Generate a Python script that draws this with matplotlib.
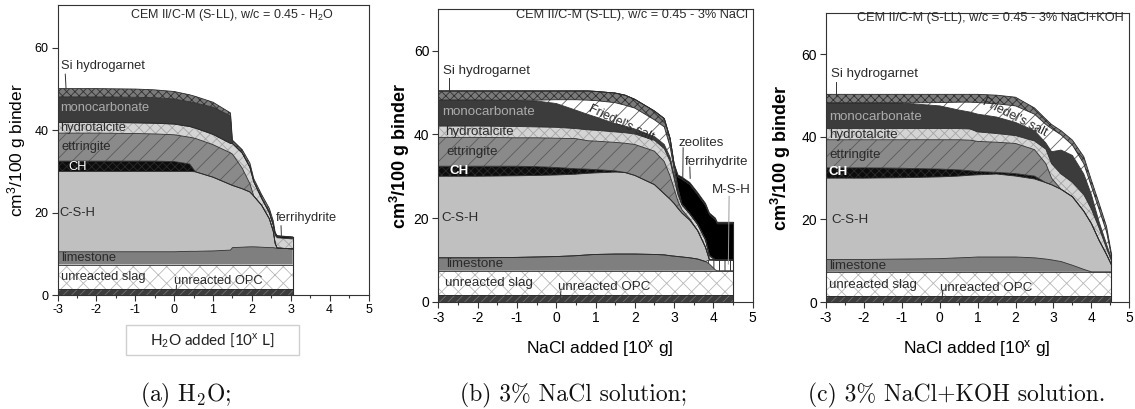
import numpy as np
import matplotlib.pyplot as plt
from matplotlib.patches import Rectangle
from matplotlib.ticker import MultipleLocator

plt.rcParams['font.family'] = 'Liberation Sans'
plt.rcParams['mathtext.fontset'] = 'custom'
plt.rcParams['mathtext.rm'] = 'Liberation Sans'
plt.rcParams['mathtext.it'] = 'Liberation Sans:italic'
plt.rcParams['mathtext.bf'] = 'Liberation Sans:bold'
plt.rcParams['axes.unicode_minus'] = False
plt.rcParams['hatch.linewidth'] = 0.6

# --- (a) H2O: upper boundary of each phase, cm3/100 g binder ---
a_x = [-3, -2, -1, -0.5, 0, 0.4, 0.55, 1.0, 1.45, 1.5, 1.75, 1.95, 2.05, 2.25, 2.45, 2.55, 2.6, 2.65, 3.05]
a_opc = [1.4, 1.4, 1.4, 1.4, 1.4, 1.4, 1.4, 1.4, 1.4, 1.4, 1.4, 1.4, 1.4, 1.4, 1.4, 1.4, 1.4, 1.4, 1.4]
a_slag = [7.4, 7.4, 7.4, 7.4, 7.4, 7.4, 7.4, 7.4, 7.4, 7.4, 7.4, 7.4, 7.4, 7.4, 7.4, 7.4, 7.4, 7.4, 7.4]
a_lime = [10.5, 10.5, 10.5, 10.5, 10.5, 10.6, 10.6, 10.7, 10.9, 11.5, 11.6, 11.7, 11.7, 11.6, 11.5, 11.5, 11.4, 11.4, 11.2]
a_csh = [30.0, 30.0, 30.0, 30.0, 30.0, 30.0, 29.9, 28.6, 26.8, 26.6, 25.8, 25.0, 24.0, 21.8, 18.5, 15.5, 12.5, 11.4, 11.2]
a_ch = [32.5, 32.5, 32.5, 32.5, 32.4, 31.8, 29.9, 28.6, 26.8, 26.6, 25.8, 25.0, 24.0, 21.8, 18.5, 15.5, 12.5, 11.4, 11.2]
a_ett = [39.3, 39.3, 39.2, 39.1, 38.9, 38.3, 38.0, 36.5, 34.5, 34.2, 30.8, 27.0, 24.0, 21.8, 18.5, 15.5, 12.5, 11.4, 11.2]
a_hyd = [41.9, 41.9, 41.8, 41.7, 41.5, 40.9, 40.5, 39.0, 36.8, 36.8, 34.5, 31.0, 27.5, 23.5, 20.0, 17.0, 14.5, 13.9, 13.6]
a_ferri = [41.9, 41.9, 41.8, 41.7, 41.5, 40.9, 40.5, 39.0, 36.8, 36.8, 34.5, 31.0, 27.5, 23.5, 20.0, 17.0, 14.9, 14.3, 14.0]
a_mono = [48.1, 48.1, 48.0, 47.9, 47.6, 46.9, 46.6, 45.6, 43.5, 36.8, 34.5, 31.0, 27.5, 23.5, 20.0, 17.0, 14.9, 14.3, 14.0]
a_sihg = [50.1, 50.1, 50.0, 49.8, 49.4, 48.6, 48.2, 46.8, 44.2, 37.6, 35.3, 32.0, 28.2, 24.4, 21.0, 18.0, 15.2, 14.4, 14.1]

# --- (b) 3% NaCl ---
b_x = [-3, -2, -1, -0.5, 0, 0.5, 0.8, 1.0, 1.5, 1.75, 2.0, 2.5, 2.75, 2.9, 3.0, 3.1, 3.2, 3.4, 3.6, 3.8, 3.9, 4.05, 4.1, 4.3, 4.5]
b_opc = [1.5, 1.5, 1.5, 1.5, 1.5, 1.5, 1.5, 1.5, 1.5, 1.5, 1.5, 1.5, 1.5, 1.5, 1.5, 1.5, 1.5, 1.5, 1.5, 1.5, 1.5, 1.5, 1.5, 1.5, 1.5]
b_slag = [7.4, 7.4, 7.4, 7.4, 7.4, 7.4, 7.4, 7.4, 7.4, 7.4, 7.4, 7.4, 7.4, 7.4, 7.4, 7.4, 7.4, 7.4, 7.4, 7.4, 7.4, 7.4, 7.4, 7.4, 7.4]
b_lime = [10.5, 10.5, 10.6, 10.7, 10.8, 11.0, 11.2, 11.3, 11.4, 11.4, 11.4, 11.3, 11.2, 11.0, 10.9, 10.8, 10.7, 10.5, 10.2, 9.6, 9.0, 7.6, 7.4, 7.4, 7.4]
b_msh = [10.5, 10.5, 10.6, 10.7, 10.8, 11.0, 11.2, 11.3, 11.4, 11.4, 11.4, 11.3, 11.2, 11.0, 10.9, 10.8, 10.7, 10.5, 10.2, 9.6, 10.0, 10.0, 10.0, 10.0, 10.0]
b_csh = [30.0, 30.0, 30.1, 30.2, 30.3, 30.5, 30.7, 30.8, 31.0, 30.9, 30.2, 28.0, 25.8, 24.5, 23.5, 22.3, 21.2, 19.5, 17.0, 13.0, 10.0, 10.0, 10.0, 10.0, 10.0]
b_ch = [32.4, 32.4, 32.4, 32.3, 32.1, 31.8, 31.7, 31.6, 31.3, 30.9, 30.2, 28.0, 25.8, 24.5, 23.5, 22.3, 21.2, 19.5, 17.0, 13.0, 10.0, 10.0, 10.0, 10.0, 10.0]
b_ett = [39.3, 39.3, 39.2, 39.2, 39.1, 39.0, 38.5, 38.4, 38.1, 37.9, 37.6, 36.0, 33.5, 30.0, 27.0, 24.0, 22.0, 19.8, 17.0, 13.0, 10.0, 10.0, 10.0, 10.0, 10.0]
b_hyd = [42.0, 42.0, 41.9, 41.8, 41.7, 41.4, 41.1, 41.0, 40.6, 40.4, 40.1, 38.6, 36.6, 33.5, 29.5, 25.5, 23.2, 21.0, 18.5, 14.8, 11.0, 10.0, 10.0, 10.0, 10.0]
b_mono = [48.2, 48.2, 48.1, 48.0, 47.4, 45.8, 44.8, 44.2, 42.6, 42.0, 41.3, 39.5, 37.6, 34.5, 30.3, 26.0, 23.2, 21.0, 18.5, 14.8, 11.0, 10.0, 10.0, 10.0, 10.0]
b_fs = [48.2, 48.2, 48.2, 48.2, 48.3, 48.3, 48.2, 48.1, 47.6, 47.0, 46.3, 43.5, 41.8, 37.0, 31.5, 26.5, 23.2, 21.0, 18.5, 14.8, 11.0, 10.0, 10.0, 10.0, 10.0]
b_sihg = [50.4, 50.4, 50.4, 50.4, 50.4, 50.4, 50.4, 50.3, 49.9, 49.4, 48.4, 45.6, 43.8, 39.0, 33.0, 27.2, 23.4, 21.1, 18.6, 14.9, 11.1, 10.0, 10.0, 10.0, 10.0]
b_zeo = [50.4, 50.4, 50.4, 50.4, 50.4, 50.4, 50.4, 50.3, 49.9, 49.4, 48.4, 45.6, 43.8, 39.0, 33.0, 29.8, 29.3, 28.0, 25.6, 23.0, 20.8, 19.6, 18.6, 18.6, 18.6]
b_ferri = [50.4, 50.4, 50.4, 50.4, 50.4, 50.4, 50.4, 50.3, 49.9, 49.4, 48.4, 45.6, 43.8, 39.0, 33.0, 30.3, 29.8, 28.5, 26.1, 23.5, 21.2, 20.0, 19.0, 19.0, 19.0]

# --- (c) 3% NaCl + KOH ---
c_x = [-3, -2, -1, 0, 0.5, 0.8, 1.0, 1.5, 2.0, 2.5, 2.8, 2.95, 3.2, 3.5, 3.8, 4.0, 4.2, 4.4, 4.53]
c_opc = [1.45, 1.45, 1.45, 1.45, 1.45, 1.45, 1.45, 1.45, 1.45, 1.45, 1.45, 1.45, 1.45, 1.45, 1.45, 1.45, 1.45, 1.45, 1.45]
c_slag = [7.3, 7.3, 7.3, 7.3, 7.3, 7.3, 7.3, 7.3, 7.3, 7.3, 7.3, 7.3, 7.3, 7.3, 7.3, 7.3, 7.3, 7.3, 7.3]
c_lime = [10.3, 10.3, 10.4, 10.5, 10.7, 10.8, 10.9, 10.9, 10.9, 10.7, 10.4, 10.2, 9.8, 8.9, 7.9, 7.3, 7.3, 7.3, 7.3]
c_csh = [30.0, 30.0, 30.1, 30.3, 30.5, 30.7, 30.8, 31.0, 30.5, 29.8, 28.9, 28.4, 27.3, 25.5, 22.0, 19.0, 15.0, 11.5, 9.0]
c_ch = [32.5, 32.5, 32.4, 32.2, 32.0, 31.8, 31.6, 31.4, 31.1, 30.5, 28.9, 28.4, 27.3, 25.5, 22.0, 19.0, 15.0, 11.5, 9.0]
c_ett = [39.3, 39.3, 39.3, 39.3, 39.3, 39.2, 38.9, 38.7, 38.4, 36.9, 33.5, 30.0, 27.3, 25.5, 22.0, 19.0, 15.0, 11.5, 9.0]
c_hyd = [42.0, 42.0, 42.0, 42.0, 42.0, 41.9, 41.2, 40.8, 40.3, 39.0, 37.0, 33.5, 31.0, 29.0, 26.0, 22.5, 18.0, 13.0, 10.0]
c_mono = [48.2, 48.2, 48.2, 47.5, 46.5, 46.0, 45.5, 44.8, 43.5, 41.5, 38.5, 36.4, 36.8, 35.5, 31.0, 26.0, 19.5, 14.0, 10.5]
c_fs = [48.2, 48.2, 48.2, 48.3, 48.4, 48.4, 48.3, 48.0, 47.5, 45.5, 43.0, 42.0, 40.5, 38.0, 33.5, 28.0, 22.5, 17.0, 11.0]
c_sihg = [50.3, 50.3, 50.3, 50.3, 50.3, 50.3, 50.3, 50.1, 49.6, 47.0, 44.3, 43.0, 41.5, 39.2, 35.2, 29.5, 24.0, 18.3, 11.7]

# facecolor, hatch, hatch colour for every phase
STYLE = {
    'opc':   ('#3d3d3d', '////', '#707070'),
    'slag':  ('white', 'xx', '#b8b8b8'),
    'lime':  ('#7f7f7f', None, None),
    'msh':   ('white', '|||', '#111111'),
    'csh':   ('#c0c0c0', None, None),
    'ch':    ('#0d0d0d', 'xxxx', '#2a2a2a'),
    'ett':   ('#8a8a8a', '//', '#5a5a5a'),
    'hyd':   ('#d4d4d4', 'xxx', '#a5a5a5'),
    'ferri': ('#141414', None, None),
    'zeo':   ('#000000', None, None),
    'mono':  ('#3c3c3c', None, None),
    'fs':    ('white', '//', '#606060'),
    'sihg':  ('#7a7a7a', 'xxxx', '#303030'),
}
LINE = '#2b2b2b'
TXT = '#2a2a2a'


def draw_stack(ax, x, layers):
    x = np.asarray(x, dtype=float)
    lower = np.zeros(len(x))
    for name, top in layers:
        top = np.asarray(top, dtype=float)
        fc, hatch, hc = STYLE[name]
        ax.fill_between(x, lower, top, facecolor=fc, edgecolor='none', linewidth=0)
        if hatch:
            ax.fill_between(x, lower, top, facecolor='none', edgecolor=hc,
                            hatch=hatch, linewidth=0)
        ax.plot(x, top, color=LINE, lw=0.6)
        lower = top
    ax.plot([x[-1], x[-1]], [0, lower[-1]], color=LINE, lw=0.8)


def style_axes(ax, ytop, fs):
    ax.set_xlim(-3, 5)
    ax.set_ylim(0, ytop)
    ax.set_xticks(range(-3, 6))
    ax.set_yticks([0, 20, 40, 60])
    ax.xaxis.set_minor_locator(MultipleLocator(0.5))
    ax.tick_params(which='both', direction='out', top=False, right=False,
                   color='#333333', width=0.8, labelsize=fs, pad=2.5)
    ax.tick_params(which='major', length=4)
    ax.tick_params(which='minor', length=2.5)
    for s in ax.spines.values():
        s.set_linewidth(0.8)
        s.set_color('#333333')


def leader(ax, xs, ys, color='#333333'):
    ax.plot(xs, ys, color=color, lw=0.7)


def common_labels(ax, pos, fs, bold_ch=False):
    ax.text(pos['sihg'][0], pos['sihg'][1], 'Si hydrogarnet', fontsize=fs, color=TXT, va='center')
    ax.text(pos['mono'][0], pos['mono'][1], 'monocarbonate', fontsize=fs, color='#ababab', va='center')
    ax.text(pos['hyd'][0], pos['hyd'][1], 'hydrotalcite', fontsize=fs, color=TXT, va='center')
    ax.text(pos['ett'][0], pos['ett'][1], 'ettringite', fontsize=fs, color=TXT, va='center')
    ax.text(pos['ch'][0], pos['ch'][1], 'CH', fontsize=fs, color='white', va='center',
            fontweight='bold' if bold_ch else 'normal')
    ax.text(pos['csh'][0], pos['csh'][1], 'C-S-H', fontsize=fs, color=TXT, va='center')
    ax.text(pos['lime'][0], pos['lime'][1], 'limestone', fontsize=fs, color=TXT, va='center')
    ax.text(pos['slag'][0], pos['slag'][1], 'unreacted slag', fontsize=fs, color=TXT, va='center')
    ax.text(pos['opc'][0], pos['opc'][1], 'unreacted OPC', fontsize=fs, color=TXT, va='center')


W, H = 1135, 409
fig = plt.figure(figsize=(W / 100, H / 100), dpi=100)


def px_axes(l, t, r, b):
    return fig.add_axes([l / W, 1 - b / H, (r - l) / W, (b - t) / H])


# ---------------- (a) ----------------
ax1 = px_axes(57.5, 5, 368.5, 295)
draw_stack(ax1, a_x, [('opc', a_opc), ('slag', a_slag), ('lime', a_lime), ('csh', a_csh),
                      ('ch', a_ch), ('ett', a_ett), ('hyd', a_hyd), ('ferri', a_ferri),
                      ('mono', a_mono), ('sihg', a_sihg)])
style_axes(ax1, 70.4, 9)
ax1.set_ylabel('cm$^3$/100 g binder', fontsize=12.5)
ax1.yaxis.set_label_coords(-0.095, 0.5)
ax1.text(1.49, 67.9, 'CEM II/C-M (S-LL), w/c = 0.45 - H$_2$O', fontsize=9, color=TXT,
         ha='center', va='center')
common_labels(ax1, {'sihg': (-2.9, 55.5), 'mono': (-2.94, 45.3), 'hyd': (-2.94, 40.6),
                    'ett': (-2.9, 36.0), 'ch': (-2.73, 31.1), 'csh': (-2.96, 19.8),
                    'lime': (-2.9, 8.9), 'slag': (-2.92, 4.3), 'opc': (0.0, 3.4)}, 9.3)
ax1.text(2.62, 18.6, 'ferrihydrite', fontsize=9.3, color=TXT, va='center')
leader(ax1, [-2.8, -2.78], [53.6, 50.0])
leader(ax1, [0.06, 0.05], [2.4, 0.4])
leader(ax1, [2.75, 2.76], [16.8, 14.2])

# boxed x label of panel (a)
fig.patches.append(Rectangle((126 / W, 1 - 355 / H), 173 / W, 30 / H, transform=fig.transFigure,
                             facecolor='white', edgecolor='#cfcfcf', lw=1))
fig.text(212 / W, 1 - 340 / H, 'H$_2$O added [10$^\\mathrm{x}$ L]', fontsize=11,
         family='Lato', ha='center', va='center', color='#222222')

# ---------------- (b) ----------------
ax2 = px_axes(438.3, 9, 752.7, 301.7)
draw_stack(ax2, b_x, [('opc', b_opc), ('slag', b_slag), ('lime', b_lime), ('msh', b_msh),
                      ('csh', b_csh), ('ch', b_ch), ('ett', b_ett), ('hyd', b_hyd),
                      ('mono', b_mono), ('fs', b_fs), ('sihg', b_sihg), ('zeo', b_zeo),
                      ('ferri', b_ferri)])
style_axes(ax2, 70.0, 10)
ax2.set_ylabel('cm$^\\mathbf{3}$/100 g binder', fontsize=13, fontweight='bold')
ax2.yaxis.set_label_coords(-0.084, 0.5)
ax2.set_xlabel('NaCl added [10$^\\mathrm{x}$ g]', fontsize=12.5, va='top')
ax2.xaxis.set_label_coords(0.514, -0.124)
ax2.text(1.92, 68.5, 'CEM II/C-M (S-LL), w/c = 0.45 - 3% NaCl', fontsize=9.2, color=TXT,
         ha='center', va='center')
common_labels(ax2, {'sihg': (-2.89, 55.2), 'mono': (-2.89, 45.3), 'hyd': (-2.83, 40.5),
                    'ett': (-2.8, 35.9), 'ch': (-2.72, 31.2), 'csh': (-2.92, 19.9),
                    'lime': (-2.8, 8.9), 'slag': (-2.83, 4.4), 'opc': (0.05, 3.4)}, 9.6,
              bold_ch=True)
ax2.text(1.66, 42.6, "Friedel's salt", fontsize=9, color=TXT, rotation=-25,
         ha='center', va='center')
ax2.text(3.11, 38.0, 'zeolites', fontsize=9.6, color=TXT, va='center')
ax2.text(3.28, 33.5, 'ferrihydrite', fontsize=9.6, color=TXT, va='center')
ax2.text(3.95, 26.7, 'M-S-H', fontsize=9.6, color=TXT, va='center')
leader(ax2, [-2.73, -2.73], [53.4, 50.4])
leader(ax2, [0.12, 0.1], [2.6, 0.6])
leader(ax2, [3.23, 3.22], [36.8, 29.2])
leader(ax2, [3.4, 3.41], [32.2, 29.5])
leader(ax2, [4.4, 4.38], [25.2, 9.0], color='#9a9a9a')

# ---------------- (c) ----------------
ax3 = px_axes(826, 13, 1129.3, 302)
draw_stack(ax3, c_x, [('opc', c_opc), ('slag', c_slag), ('lime', c_lime), ('csh', c_csh),
                      ('ch', c_ch), ('ett', c_ett), ('hyd', c_hyd), ('mono', c_mono),
                      ('fs', c_fs), ('sihg', c_sihg)])
style_axes(ax3, 70.0, 10)
ax3.set_ylabel('cm$^\\mathbf{3}$/100 g binder', fontsize=13, fontweight='bold')
ax3.yaxis.set_label_coords(-0.109, 0.5)
ax3.set_xlabel('NaCl added [10$^\\mathrm{x}$ g]', fontsize=12.5, va='top')
ax3.xaxis.set_label_coords(0.498, -0.125)
ax3.text(1.33, 68.8, 'CEM II/C-M (S-LL), w/c = 0.45 - 3% NaCl+KOH', fontsize=9.2, color=TXT,
         ha='center', va='center')
common_labels(ax3, {'sihg': (-2.87, 55.2), 'mono': (-2.91, 44.8), 'hyd': (-2.91, 40.5),
                    'ett': (-2.91, 35.5), 'ch': (-2.94, 31.5), 'csh': (-2.87, 19.8),
                    'lime': (-2.91, 8.6), 'slag': (-2.91, 4.0), 'opc': (0.0, 3.5)}, 9.6,
              bold_ch=True)
ax3.text(1.98, 44.8, "Friedel's salt", fontsize=9, color=TXT, rotation=-27,
         ha='center', va='center')
leader(ax3, [-2.74, -2.74], [53.3, 49.9])
leader(ax3, [0.08, 0.06], [2.7, 0.6])

# sub-figure captions
for cx, cap in [(186, '(a) H$_2$O;'), (574, '(b) 3% NaCl solution;'),
                (957, '(c) 3% NaCl+KOH solution.')]:
    fig.text(cx / W, 1 - 395 / H, cap, fontsize=17, family='cmr10', math_fontfamily='cm',
             ha='center', va='center', color='#111111')

fig.savefig('out.png', dpi=100, facecolor='white')
